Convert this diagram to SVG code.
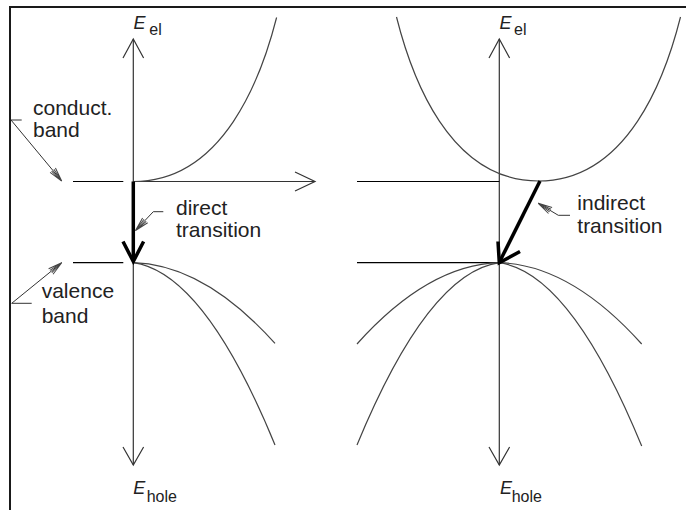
<svg xmlns="http://www.w3.org/2000/svg" width="686" height="510" viewBox="0 0 686 510">
<defs>
<style>
.frame{fill:none;stroke:#1a1a1a;stroke-width:2}
.axis{fill:none;stroke:#333;stroke-width:1.2}
.lvl{fill:none;stroke:#000;stroke-width:1.2}
.curve{fill:none;stroke:#444;stroke-width:1.2}
.thick{fill:none;stroke:#000;stroke-width:3.5;stroke-linejoin:miter}
.lead{fill:none;stroke:#333;stroke-width:1}
.lbl{font-family:"Liberation Sans",Arial,sans-serif;font-size:21px;fill:#222}
.E{font-family:"Liberation Sans",Arial,sans-serif;font-style:italic;font-size:18px;fill:#222}
.sub{font-family:"Liberation Sans",Arial,sans-serif;font-size:16px;fill:#222}
</style>
<marker id="lh" viewBox="-16 -5 18 10" markerWidth="18" markerHeight="10" refX="0" refY="0" orient="auto" markerUnits="userSpaceOnUse">
<path d="M-14,-3.5 L0,0 L-14,3.5 M-14,-1.5 L0,0 L-14,1.5" fill="none" stroke="#444" stroke-width="1"/>
</marker>
</defs>
<rect class="frame" x="10" y="7" width="700" height="520"/>

<g id="left-panel">
  <g id="left-el-axis">
    <line class="axis" x1="133.3" y1="39" x2="133.3" y2="465"/>
    <polyline class="axis" points="123,58 133.3,39 143.6,58"/>
    <polyline class="axis" points="123,447 133.3,465 143.6,447"/>
    <text class="E" x="133.5" y="28.5">E</text><text class="sub" x="149.3" y="35">el</text>
    <text class="E" x="133.3" y="493.5">E</text><text class="sub" x="146.7" y="501.5">hole</text>
  </g>
  <g id="left-k-axis">
    <line class="axis" x1="133.3" y1="181.5" x2="315" y2="181.5"/>
    <polyline class="axis" points="295,172 315,181.5 295,191"/>
  </g>
  <g id="left-levels">
    <line class="lvl" x1="73" y1="181.5" x2="123.3" y2="181.5"/>
    <line class="lvl" x1="73" y1="262.7" x2="123.3" y2="262.7"/>
  </g>
  <g id="left-conduction">
    <path class="curve" d="M133.3,181.5 C224,181.5 261.6,76.3 276.6,17.5"/>
  </g>
  <g id="left-valence">
    <path class="curve" d="M133.3,262.7 Q204.2,264.7 275,343.4"/>
    <path class="curve" d="M133.3,262.7 Q204.2,272.7 275,445"/>
  </g>
  <g id="direct-transition">
    <line class="thick" x1="133.3" y1="181.5" x2="133.3" y2="259"/>
    <polyline class="thick" points="123,241.5 133.3,261.5 143.6,241.5"/>
  </g>
  <g id="label-conduct">
    <text class="lbl" x="33" y="115">conduct.</text>
    <text class="lbl" x="33" y="136.7">band</text>
  </g>
  <g id="label-valence">
    <text class="lbl" x="41.7" y="298.3">valence</text>
    <text class="lbl" x="41.7" y="323.3">band</text>
  </g>
  <g id="label-direct">
    <text class="lbl" x="176" y="215">direct</text>
    <text class="lbl" x="176" y="236.7">transition</text>
  </g>
</g>

<g id="right-panel">
  <g id="right-el-axis">
    <line class="axis" x1="499.3" y1="39" x2="499.3" y2="465"/>
    <polyline class="axis" points="489,58 499.3,39 509.6,58"/>
    <polyline class="axis" points="489,447 499.3,465 509.6,447"/>
    <text class="E" x="499.5" y="28.5">E</text><text class="sub" x="514" y="35">el</text>
    <text class="E" x="500" y="493.5">E</text><text class="sub" x="511.7" y="501.5">hole</text>
  </g>
  <g id="right-levels">
    <line class="lvl" x1="357" y1="181.5" x2="499.3" y2="181.5"/>
    <line class="lvl" x1="357" y1="262.7" x2="499.3" y2="262.7"/>
  </g>
  <g id="right-conduction">
    <path class="curve" d="M396.5,17 C411.4,76 448.6,181 538.5,181 C628.4,181 665.6,76 680.5,17"/>
  </g>
  <g id="right-valence">
    <path class="curve" d="M499.3,262.7 Q570.5,264.7 641.7,344"/>
    <path class="curve" d="M499.3,262.7 Q570.5,272.7 641.7,446"/>
    <path class="curve" d="M499.3,262.7 Q428.2,264.7 357,344"/>
    <path class="curve" d="M499.3,262.7 Q428.2,272.7 357,445"/>
  </g>
  <g id="indirect-transition">
    <line class="thick" x1="540" y1="181" x2="500.5" y2="260"/>
    <polyline class="thick" points="498,241.5 499.3,262.7 520,251.5"/>
  </g>
  <g id="label-indirect">
    <text class="lbl" x="577.3" y="210">indirect</text>
    <text class="lbl" x="577.3" y="233">transition</text>
  </g>
</g>

<g id="connectors">
  <path class="lead" d="M21.7,120 L11,120 L61.7,181" marker-end="url(#lh)"/>
  <path class="lead" d="M31.7,303.3 L11.7,303.3 L61.7,262.7" marker-end="url(#lh)"/>
  <path class="lead" d="M163.3,211.7 L153.3,211.7 L135.5,230.5" marker-end="url(#lh)"/>
  <path class="lead" d="M570,215.3 L558.3,215.3 L538.3,203.3" marker-end="url(#lh)"/>
</g>
</svg>
